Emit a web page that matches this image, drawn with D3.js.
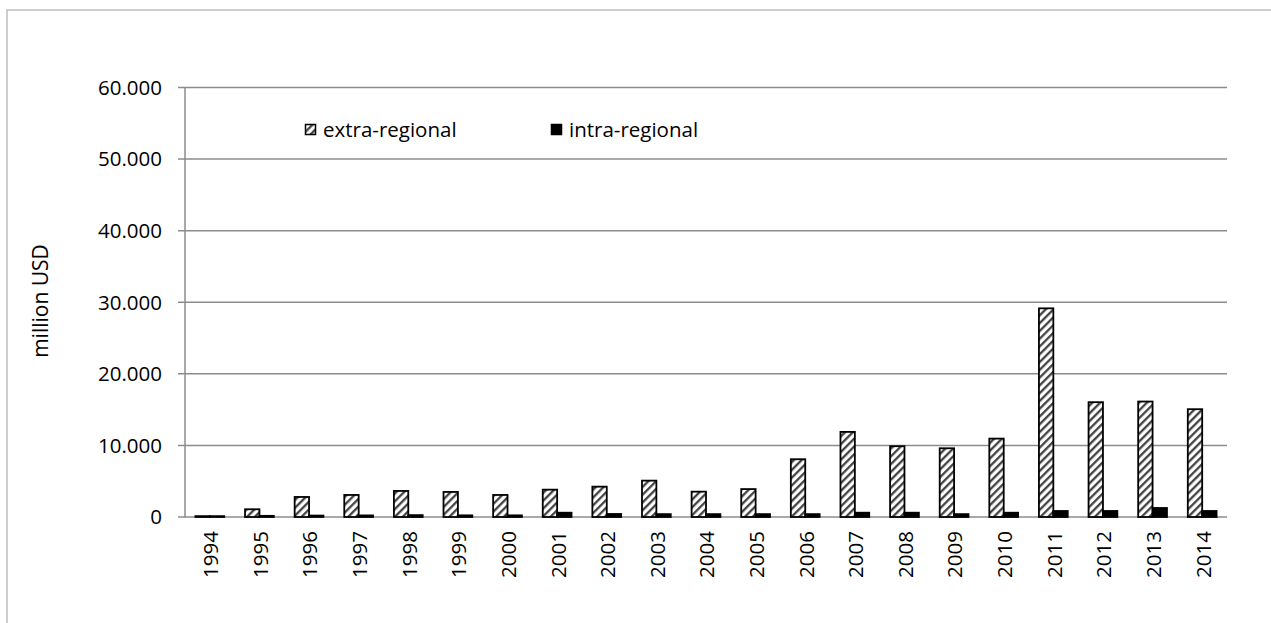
<!DOCTYPE html>
<html><head><meta charset="utf-8">
<script src="https://cdn.jsdelivr.net/npm/d3@7"></script>
<style>body{margin:0;background:#fff}svg{display:block}text{font-family:"Open Sans",Lato,sans-serif;fill:#000}</style>
</head><body>
<script>
const years = ["1994","1995","1996","1997","1998","1999","2000","2001","2002","2003","2004","2005","2006","2007","2008","2009","2010","2011","2012","2013","2014"];
const extraRegional = [120,1080,2800,3080,3640,3500,3080,3820,4240,5080,3540,3900,8070,11890,9890,9600,10950,29150,16040,16130,15060];
const intraRegional = [120,160,200,220,260,230,230,600,420,400,400,400,400,600,600,400,600,840,840,1260,840];
const yTicks = [0,10000,20000,30000,40000,50000,60000];
const seriesNames = ["extra-regional","intra-regional"];

const W=1271,H=623;
const svg=d3.select("body").append("svg").attr("width",W).attr("height",H);
const defs=svg.append("defs");
const pat=defs.append("pattern").attr("id","hatch").attr("patternUnits","userSpaceOnUse")
  .attr("width",5.5).attr("height",5.5).attr("patternTransform","rotate(45)");
pat.append("rect").attr("width",5.5).attr("height",5.5).attr("fill","#fff");
pat.append("line").attr("x1",1.2).attr("y1",0).attr("x2",1.2).attr("y2",5.5)
  .attr("stroke","#3a3a3a").attr("stroke-width",2.2);

// outer chart border
svg.append("rect").attr("x",7).attr("y",10).attr("width",W+10).attr("height",H+10)
  .attr("fill","none").attr("stroke","#bfbfbf").attr("stroke-width",1.5);

const m={l:185,r:1227,t:87.5,b:517};
const x=d3.scaleBand().domain(years).range([m.l,m.r]).paddingInner(0.42).paddingOuter(0.21);
const xs=d3.scaleBand().domain(seriesNames).range([0,x.bandwidth()]);
const y=d3.scaleLinear().domain([0,60000]).range([m.b,m.t]);
const lab=v=>v===0?"0":d3.format(",")(v).replace(/,/g,".");

// gridlines
svg.append("g").selectAll("line").data(yTicks).join("line")
  .attr("x1",178).attr("x2",m.r).attr("y1",d=>y(d)).attr("y2",d=>y(d))
  .attr("stroke","#8c8c8c").attr("stroke-width",1.5);
// y axis line
svg.append("line").attr("x1",m.l).attr("x2",m.l).attr("y1",m.t).attr("y2",m.b+0.5)
  .attr("stroke","#8c8c8c").attr("stroke-width",1.5);
// y labels
svg.append("g").selectAll("text").data(yTicks).join("text")
  .attr("x",162).attr("y",d=>y(d)).attr("dy","0.36em").attr("text-anchor","end")
  .style("font-size","20.5px").text(lab);

// bars
const g=svg.append("g");
years.forEach((yr,i)=>{
  const gx=x(yr);
  g.append("rect").attr("x",gx+xs("extra-regional")).attr("width",xs.bandwidth())
   .attr("y",y(extraRegional[i])).attr("height",y(0)-y(extraRegional[i]))
   .attr("fill","url(#hatch)").attr("stroke","#000").attr("stroke-width",1.8);
  g.append("rect").attr("x",gx+xs("intra-regional")).attr("width",xs.bandwidth())
   .attr("y",y(intraRegional[i])).attr("height",y(0)-y(intraRegional[i]))
   .attr("fill","#000").attr("stroke","#000").attr("stroke-width",1.8);
});

// x labels
svg.append("g").selectAll("text").data(years).join("text")
  .attr("transform",d=>`translate(${x(d)+x.bandwidth()/2+1},531) rotate(-90)`)
  .attr("dy","0.36em").attr("text-anchor","end").style("font-size","20.5px").text(d=>d);

// y title
svg.append("text").attr("transform","translate(40,301) rotate(-90)").attr("text-anchor","middle")
  .attr("dy","0.36em").style("font-size","21px").text("million USD");

// legend
const leg=[{n:seriesNames[0],x:305,f:"url(#hatch)"},{n:seriesNames[1],x:551,f:"#000"}];
leg.forEach(l=>{
  svg.append("rect").attr("x",l.x+0.5).attr("y",124.5).attr("width",10).attr("height",10)
    .attr("fill",l.f).attr("stroke","#000").attr("stroke-width",1.5);
  svg.append("text").attr("x",l.x+18).attr("y",130).attr("dy","0.36em")
    .style("font-size","20.5px").text(l.n);
});
</script>
</body></html>
